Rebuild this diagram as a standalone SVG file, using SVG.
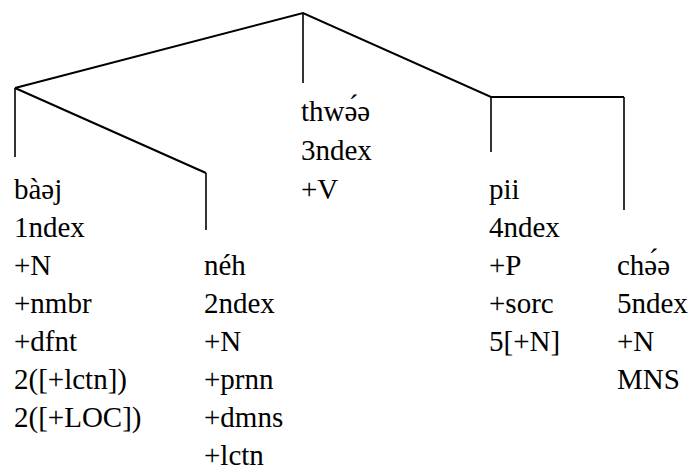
<svg xmlns="http://www.w3.org/2000/svg" width="699" height="470" viewBox="0 0 699 470">
  <rect width="699" height="470" fill="#fff"/>

  <!-- tree branches -->
  <g id="connectors" stroke="#000" fill="none">
    <polyline stroke-width="2" points="15,88 303,13 491,97 624,97"/>
    <polyline stroke-width="2" points="15,88 206,173"/>
    <line stroke-width="1.6" x1="303" y1="13" x2="303" y2="83"/>
    <line stroke-width="1.6" x1="15" y1="88" x2="15" y2="157"/>
    <line stroke-width="1.6" x1="206" y1="173" x2="206" y2="230"/>
    <line stroke-width="1.6" x1="491" y1="97" x2="491" y2="152"/>
    <line stroke-width="1.6" x1="624" y1="97" x2="624" y2="210"/>
  </g>

  <!-- leaves: word plus feature list -->
  <g id="node-baej" fill="#000" font-family="Liberation Serif, DejaVu Serif, serif" font-size="29">
    <text x="14" y="199">b&#xE0;&#x259;j</text>
    <text x="14" y="237">1ndex</text>
    <text x="14" y="275">+N</text>
    <text x="14" y="313">+nmbr</text>
    <text x="14" y="351">+dfnt</text>
    <text x="14" y="389">2([+lctn])</text>
    <text x="14" y="427">2([+LOC])</text>
  </g>

  <g id="node-neh" fill="#000" font-family="Liberation Serif, DejaVu Serif, serif" font-size="29">
    <text x="204" y="275">n&#xE9;h</text>
    <text x="204" y="313">2ndex</text>
    <text x="204" y="351">+N</text>
    <text x="204" y="389">+prnn</text>
    <text x="204" y="427">+dmns</text>
    <text x="204" y="465">+lctn</text>
  </g>

  <g id="node-thwee" fill="#000" font-family="Liberation Serif, DejaVu Serif, serif" font-size="29">
    <text x="301" y="121">thw&#x259;&#x301;&#x259;</text>
    <text x="301" y="160">3ndex</text>
    <text x="301" y="199">+V</text>
  </g>

  <g id="node-pii" fill="#000" font-family="Liberation Serif, DejaVu Serif, serif" font-size="29">
    <text x="489" y="199">pii</text>
    <text x="489" y="237">4ndex</text>
    <text x="489" y="275">+P</text>
    <text x="489" y="313">+sorc</text>
    <text x="489" y="351">5[+N]</text>
  </g>

  <g id="node-chee" fill="#000" font-family="Liberation Serif, DejaVu Serif, serif" font-size="29">
    <text x="617" y="275">ch&#x259;&#x301;&#x259;</text>
    <text x="617" y="313">5ndex</text>
    <text x="617" y="351">+N</text>
    <text x="617" y="389">MNS</text>
  </g>
</svg>
